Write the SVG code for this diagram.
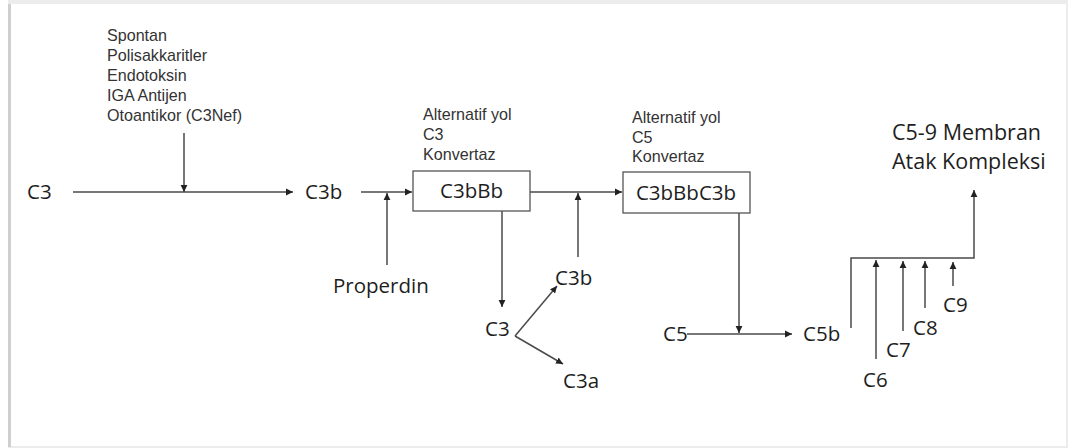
<svg xmlns="http://www.w3.org/2000/svg" width="1068" height="448" viewBox="0 0 1068 448">
  <defs>
    <marker id="arrow" markerUnits="userSpaceOnUse" markerWidth="8" markerHeight="8" refX="7" refY="4" orient="auto">
      <path d="M0,0.6 L7,4 L0,7.4 Z" fill="#222"/>
    </marker>
  </defs>
  <style>
    .edge { fill: none; stroke: #4a4a4a; stroke-width: 1.5; }
    .arr { marker-end: url(#arrow); }
    .box { fill: #fff; stroke: #555; stroke-width: 1.3; }
    .big { font-family: "Open Sans", "Noto Sans", sans-serif; font-size: 20.5px; fill: #1e1e1e; }
    .mac { font-size: 21.5px; }
    .small { font-family: "Liberation Sans", Arial, sans-serif; font-size: 16.1px; fill: #333; }
    .mid { text-anchor: middle; }
  </style>

  <!-- page background with a soft frame -->
  <rect x="0" y="0" width="1068" height="448" fill="#fff"/>
  <rect x="8" y="0" width="1060" height="448" fill="#ececec"/>
  <rect x="8" y="4" width="3" height="443" fill="#cfcfcf"/>
  <rect x="11" y="4" width="1055" height="442" fill="#fff"/>

  <!-- connectors -->
  <g id="connectors">
    <path class="edge arr" d="M73,192 H293"/>
    <path class="edge arr" d="M184,133 V192"/>
    <path class="edge arr" d="M361,192 H412"/>
    <path class="edge arr" d="M387,265 V193"/>
    <path class="edge arr" d="M530,192 H622"/>
    <path class="edge arr" d="M578,257 V193"/>
    <path class="edge arr" d="M502,211 V307"/>
    <path class="edge arr" d="M515,336 L557,286"/>
    <path class="edge arr" d="M515,336 L563,364"/>
    <path class="edge arr" d="M739,213 V333"/>
    <path class="edge arr" d="M687,334 H792"/>
    <path class="edge arr" d="M851,328 V258 H974 V190"/>
    <path class="edge arr" d="M876,359 V260"/>
    <path class="edge arr" d="M903,331 V261"/>
    <path class="edge arr" d="M925,308 V261"/>
    <path class="edge arr" d="M953,286 V262"/>
  </g>

  <!-- triggers of spontaneous activation -->
  <g id="triggers">
    <text class="small" x="107" y="40.7">Spontan</text>
    <text class="small" x="107" y="60.8">Polisakkaritler</text>
    <text class="small" x="107" y="80.9">Endotoksin</text>
    <text class="small" x="107" y="101">IGA Antijen</text>
    <text class="small" x="107" y="121.3">Otoantikor (C3Nef)</text>
  </g>

  <g id="c3-start"><text class="big" x="27" y="199">C3</text></g>
  <g id="c3b-1"><text class="big" x="305" y="199">C3b</text></g>
  <g id="properdin"><text class="big" x="333" y="293">Properdin</text></g>

  <g id="c3-convertase">
    <text class="small" x="423" y="120">Alternatif yol</text>
    <text class="small" x="423" y="140">C3</text>
    <text class="small" x="423" y="159.5">Konvertaz</text>
    <rect class="box" x="413" y="171" width="117" height="40"/>
    <text class="big mid" x="471.5" y="198">C3bBb</text>
  </g>

  <g id="c3-split"><text class="big" x="485" y="336">C3</text></g>
  <g id="c3b-2"><text class="big" x="555" y="285">C3b</text></g>
  <g id="c3a"><text class="big" x="563" y="388">C3a</text></g>

  <g id="c5-convertase">
    <text class="small" x="632" y="122.5">Alternatif yol</text>
    <text class="small" x="632" y="142.5">C5</text>
    <text class="small" x="632" y="162">Konvertaz</text>
    <rect class="box" x="623" y="172" width="127" height="41"/>
    <text class="big mid" x="686" y="199.5">C3bBbC3b</text>
  </g>

  <g id="c5"><text class="big" x="663" y="341">C5</text></g>
  <g id="c5b"><text class="big" x="803" y="341">C5b</text></g>
  <g id="c6"><text class="big" x="863" y="387">C6</text></g>
  <g id="c7"><text class="big" x="886" y="357">C7</text></g>
  <g id="c8"><text class="big" x="913" y="335">C8</text></g>
  <g id="c9"><text class="big" x="943" y="312">C9</text></g>

  <g id="mac">
    <text class="big mac" x="892" y="140">C5-9 Membran</text>
    <text class="big mac" x="892" y="169">Atak Kompleksi</text>
  </g>
</svg>
